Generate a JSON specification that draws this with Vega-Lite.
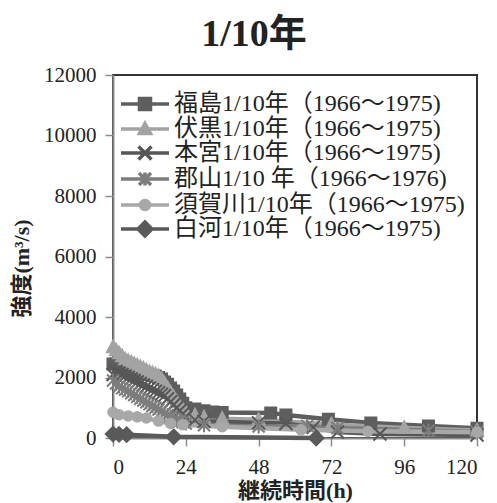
{
  "$schema": "https://vega.github.io/schema/vega-lite/v6.json",
  "autosize": "none",
  "width": 364,
  "height": 363,
  "padding": {"left": 113, "top": 75, "right": 20, "bottom": 65},
  "background": "white",
  "title": {
    "text": "1/10年",
    "font": "Liberation Serif, Noto Sans CJK JP",
    "fontSize": 38,
    "fontWeight": "bold",
    "color": "#222222",
    "anchor": "middle",
    "dx": -41,
    "offset": 10
  },
  "config": {
    "view": {"stroke": "#333333", "strokeWidth": 2},
    "axis": {
      "grid": false,
      "domainColor": "#8c8c8c",
      "domainWidth": 2,
      "tickColor": "#8c8c8c",
      "tickWidth": 1.5,
      "tickSize": 8,
      "labelFont": "Liberation Serif",
      "labelFontSize": 21,
      "labelColor": "#222222",
      "titleFont": "Liberation Serif, Noto Sans CJK JP",
      "titleFontSize": 22,
      "titleFontWeight": "bold",
      "titleColor": "#222222"
    }
  },
  "resolve": {"scale": {"color": "independent", "shape": "independent", "stroke": "independent"}},
  "data": {"values": [
    {"s":"福島","h":0,"v":2450},{"s":"福島","h":1,"v":2450},{"s":"福島","h":2,"v":2400},{"s":"福島","h":3,"v":2350},{"s":"福島","h":4,"v":2300},{"s":"福島","h":5,"v":2280},{"s":"福島","h":6,"v":2250},{"s":"福島","h":7,"v":2220},{"s":"福島","h":8,"v":2200},{"s":"福島","h":9,"v":2170},{"s":"福島","h":10,"v":2150},{"s":"福島","h":11,"v":2120},{"s":"福島","h":12,"v":2100},{"s":"福島","h":13,"v":2070},{"s":"福島","h":14,"v":2050},{"s":"福島","h":15,"v":2000},{"s":"福島","h":16,"v":1950},{"s":"福島","h":17,"v":1850},{"s":"福島","h":18,"v":1780},{"s":"福島","h":19,"v":1650},{"s":"福島","h":20,"v":1550},{"s":"福島","h":21,"v":1420},{"s":"福島","h":22,"v":1290},{"s":"福島","h":23,"v":1150},{"s":"福島","h":24,"v":1000},{"s":"福島","h":27,"v":960},{"s":"福島","h":30,"v":900},{"s":"福島","h":33,"v":860},{"s":"福島","h":36,"v":840},{"s":"福島","h":52,"v":830},{"s":"福島","h":57,"v":760},{"s":"福島","h":71,"v":620},{"s":"福島","h":85,"v":500},{"s":"福島","h":104,"v":400},{"s":"福島","h":120,"v":320},
    {"s":"伏黒","h":0,"v":3000},{"s":"伏黒","h":1,"v":2900},{"s":"伏黒","h":2,"v":2800},{"s":"伏黒","h":3,"v":2700},{"s":"伏黒","h":4,"v":2600},{"s":"伏黒","h":5,"v":2550},{"s":"伏黒","h":6,"v":2500},{"s":"伏黒","h":7,"v":2450},{"s":"伏黒","h":8,"v":2400},{"s":"伏黒","h":9,"v":2350},{"s":"伏黒","h":10,"v":2300},{"s":"伏黒","h":11,"v":2240},{"s":"伏黒","h":12,"v":2180},{"s":"伏黒","h":13,"v":2140},{"s":"伏黒","h":14,"v":2100},{"s":"伏黒","h":15,"v":2050},{"s":"伏黒","h":16,"v":1950},{"s":"伏黒","h":17,"v":1800},{"s":"伏黒","h":18,"v":1650},{"s":"伏黒","h":19,"v":1500},{"s":"伏黒","h":20,"v":1350},{"s":"伏黒","h":21,"v":1200},{"s":"伏黒","h":22,"v":1050},{"s":"伏黒","h":23,"v":950},{"s":"伏黒","h":24,"v":850},{"s":"伏黒","h":27,"v":750},{"s":"伏黒","h":30,"v":680},{"s":"伏黒","h":36,"v":640},{"s":"伏黒","h":48,"v":600},{"s":"伏黒","h":72,"v":450},{"s":"伏黒","h":96,"v":330},{"s":"伏黒","h":120,"v":250},
    {"s":"本宮","h":0,"v":2100},{"s":"本宮","h":1,"v":2200},{"s":"本宮","h":2,"v":2150},{"s":"本宮","h":3,"v":2100},{"s":"本宮","h":4,"v":2050},{"s":"本宮","h":5,"v":2000},{"s":"本宮","h":6,"v":1950},{"s":"本宮","h":7,"v":1900},{"s":"本宮","h":8,"v":1850},{"s":"本宮","h":9,"v":1800},{"s":"本宮","h":10,"v":1750},{"s":"本宮","h":11,"v":1700},{"s":"本宮","h":12,"v":1650},{"s":"本宮","h":13,"v":1600},{"s":"本宮","h":14,"v":1550},{"s":"本宮","h":15,"v":1500},{"s":"本宮","h":16,"v":1450},{"s":"本宮","h":17,"v":1400},{"s":"本宮","h":18,"v":1300},{"s":"本宮","h":19,"v":1200},{"s":"本宮","h":20,"v":1100},{"s":"本宮","h":21,"v":1000},{"s":"本宮","h":22,"v":900},{"s":"本宮","h":23,"v":800},{"s":"本宮","h":24,"v":700},{"s":"本宮","h":27,"v":600},{"s":"本宮","h":30,"v":550},{"s":"本宮","h":48,"v":500},{"s":"本宮","h":57,"v":480},{"s":"本宮","h":66,"v":350},{"s":"本宮","h":74,"v":200},{"s":"本宮","h":88,"v":130},{"s":"本宮","h":120,"v":100},
    {"s":"郡山","h":0,"v":1900},{"s":"郡山","h":1,"v":1800},{"s":"郡山","h":2,"v":1700},{"s":"郡山","h":3,"v":1650},{"s":"郡山","h":4,"v":1600},{"s":"郡山","h":5,"v":1550},{"s":"郡山","h":6,"v":1480},{"s":"郡山","h":7,"v":1420},{"s":"郡山","h":8,"v":1360},{"s":"郡山","h":9,"v":1300},{"s":"郡山","h":10,"v":1240},{"s":"郡山","h":11,"v":1180},{"s":"郡山","h":12,"v":1120},{"s":"郡山","h":13,"v":1060},{"s":"郡山","h":14,"v":1000},{"s":"郡山","h":15,"v":940},{"s":"郡山","h":16,"v":880},{"s":"郡山","h":17,"v":820},{"s":"郡山","h":18,"v":760},{"s":"郡山","h":19,"v":700},{"s":"郡山","h":20,"v":650},{"s":"郡山","h":21,"v":600},{"s":"郡山","h":22,"v":560},{"s":"郡山","h":23,"v":520},{"s":"郡山","h":24,"v":480},{"s":"郡山","h":30,"v":420},{"s":"郡山","h":48,"v":380},{"s":"郡山","h":64,"v":400},{"s":"郡山","h":74,"v":330},{"s":"郡山","h":104,"v":250},{"s":"郡山","h":120,"v":200},
    {"s":"須賀川","h":0,"v":850},{"s":"須賀川","h":2,"v":770},{"s":"須賀川","h":5,"v":730},{"s":"須賀川","h":8,"v":700},{"s":"須賀川","h":11,"v":660},{"s":"須賀川","h":15,"v":560},{"s":"須賀川","h":19,"v":480},{"s":"須賀川","h":23,"v":440},{"s":"須賀川","h":36,"v":370},{"s":"須賀川","h":62,"v":270},{"s":"須賀川","h":84,"v":220},{"s":"須賀川","h":120,"v":190},
    {"s":"白河","h":0,"v":130},{"s":"白河","h":2,"v":120},{"s":"白河","h":4.5,"v":110},{"s":"白河","h":20,"v":40},{"s":"白河","h":67,"v":0}
  ]},
  "encoding": {
    "x": {"field": "h", "type": "quantitative", "scale": {"domain": [0, 120], "nice": false}, "axis": {"values": [0, 24, 48, 72, 96, 120], "format": "d", "labelFont": "Liberation Serif", "labelFontSize": 21, "title": "継続時間(h)", "labelPadding": 10, "titleX": 182, "titleY": 52, "titleBaseline": "middle", "titleAlign": "center"}},
    "y": {"field": "v", "type": "quantitative", "scale": {"domain": [0, 12000], "nice": false}, "axis": {"values": [0, 2000, 4000, 6000, 8000, 10000, 12000], "format": "d", "labelFont": "Liberation Serif", "labelFontSize": 21, "title": "強度(m³/s)", "labelPadding": 9, "titleAngle": -90, "titleX": -92, "titleY": 193, "titleBaseline": "middle", "titleAlign": "center"}}
  },
  "layer": [
    {
      "mark": {"type": "line", "strokeWidth": 4.5},
      "encoding": {
        "color": {"field": "s", "type": "nominal", "scale": {"domain": ["福島","伏黒","本宮","郡山","須賀川","白河"], "range": ["#5e5e5e","#a3a3a3","#575757","#7d7d7d","#a8a8a8","#5a5a5a"]}, "legend": null}
      }
    },
    {
      "mark": {"type": "point", "filled": true, "size": 100, "strokeWidth": 2, "opacity": 1},
      "encoding": {
        "color": {"field": "s", "type": "nominal", "scale": {"domain": ["福島","伏黒","本宮","郡山","須賀川","白河"], "range": ["#5e5e5e","#a3a3a3","#575757","#7d7d7d","#a8a8a8","#5a5a5a"]}, "legend": null},
        "stroke": {"field": "s", "type": "nominal", "scale": {"domain": ["福島","伏黒","本宮","郡山","須賀川","白河"], "range": ["#5e5e5e","#a3a3a3","#575757","#7d7d7d","#a8a8a8","#5a5a5a"]}, "legend": null},
        "shape": {"field": "s", "type": "nominal", "scale": {"domain": ["福島","伏黒","本宮","郡山","須賀川","白河"], "range": ["M-1.1,-1.1H1.1V1.1H-1.1Z","M0,-1.3L1.2,1H-1.2Z","M-1.3,-1.3L1.3,1.3M-1.3,1.3L1.3,-1.3","M-1.2,-1.2L1.2,1.2M-1.2,1.2L1.2,-1.2M0,-1.4V1.4","M-0.95,0A0.95,0.95 0 1,0 0.95,0A0.95,0.95 0 1,0 -0.95,0Z","M0,-1.45L1.45,0L0,1.45L-1.45,0Z"]}, "legend": null}
      }
    },
    {
      "transform": [{"filter": "false"}],
      "mark": {"type": "point", "filled": true, "size": 100, "strokeWidth": 3.5, "opacity": 1},
      "encoding": {
        "color": {"field": "s", "type": "nominal", "scale": {"domain": ["福島","伏黒","本宮","郡山","須賀川","白河"], "range": ["#5e5e5e","#a3a3a3","#575757","#7d7d7d","#a8a8a8","#5a5a5a"]},
          "legend": {"orient": "none", "legendX": 20, "legendY": 17, "title": null, "symbolSize": 100, "symbolStrokeWidth": 3.5, "labelOffset": 17, "labelFont": "Liberation Serif, Noto Sans CJK JP", "labelFontSize": 24, "labelColor": "#222222", "labelLimit": 500, "rowPadding": -4, "labelExpr": "datum.label + (datum.label == '郡山' ? '1/10 年（1966～1976)' : '1/10年（1966～1975)')"}},
        "stroke": {"field": "s", "type": "nominal", "scale": {"domain": ["福島","伏黒","本宮","郡山","須賀川","白河"], "range": ["#5e5e5e","#a3a3a3","#575757","#7d7d7d","#a8a8a8","#5a5a5a"]},
          "legend": {"orient": "none", "legendX": 20, "legendY": 17, "title": null, "symbolSize": 100, "symbolStrokeWidth": 3.5, "labelOffset": 17, "labelFont": "Liberation Serif, Noto Sans CJK JP", "labelFontSize": 24, "labelColor": "#222222", "labelLimit": 500, "rowPadding": -4, "labelExpr": "datum.label + (datum.label == '郡山' ? '1/10 年（1966～1976)' : '1/10年（1966～1975)')"}},
        "shape": {"field": "s", "type": "nominal", "scale": {"domain": ["福島","伏黒","本宮","郡山","須賀川","白河"], "range": ["M-4.8,0H4.8M-1.1,-1.1H1.1V1.1H-1.1Z","M-4.8,0H4.8M0,-1.1L1.1,0.9H-1.1Z","M-4.8,0H4.8M-1.3,-1.3L1.3,1.3M-1.3,1.3L1.3,-1.3","M-4.8,0H4.8M-1.2,-1.2L1.2,1.2M-1.2,1.2L1.2,-1.2M0,-1.3V1.3","M-4.8,0H4.8M-0.9,0A0.9,0.9 0 1,0 0.9,0A0.9,0.9 0 1,0 -0.9,0Z","M-4.8,0H4.8M0,-1.4L1.4,0L0,1.4L-1.4,0Z"]},
          "legend": {"orient": "none", "legendX": 20, "legendY": 17, "title": null, "symbolSize": 100, "symbolStrokeWidth": 3.5, "labelOffset": 17, "labelFont": "Liberation Serif, Noto Sans CJK JP", "labelFontSize": 24, "labelColor": "#222222", "labelLimit": 500, "rowPadding": -4, "labelExpr": "datum.label + (datum.label == '郡山' ? '1/10 年（1966～1976)' : '1/10年（1966～1975)')"}}
      }
    }
  ]
}
